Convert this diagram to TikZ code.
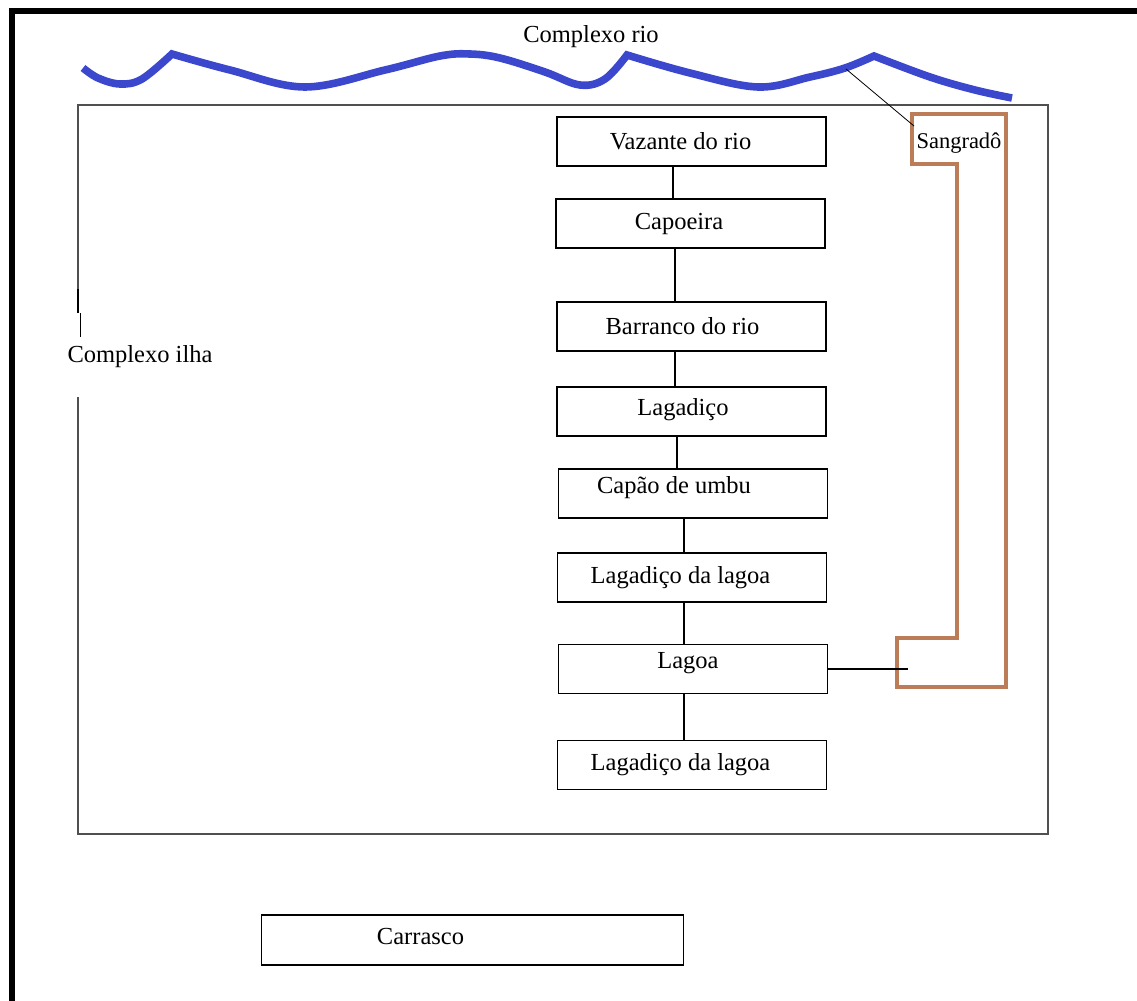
\documentclass[tikz,border=0pt]{standalone}
\usepackage{fontspec}
\setmainfont{Liberation Serif}
\usepackage{xcolor}
\definecolor{riob}{HTML}{3B47CD}
\definecolor{sang}{HTML}{BD7C58}
\definecolor{moldura}{HTML}{505050}
\tikzset{unit/.style={draw,line width=0.75pt,minimum width=134.5pt,minimum height=24.5pt,inner sep=0pt},
  txt/.style={font=\fontsize{12.25}{14}\selectfont,inner sep=0pt}}

\begin{document}
\begin{tikzpicture}[x=0.5pt,y=-0.5pt]
    \useasboundingbox (0,0) rectangle (1137,1001);
    % outer frame
    \draw[line width=3pt] (12,1001) -- (12,11) -- (1137,11);
    % complexo ilha frame
    \draw[moldura,line width=0.7pt] (78,289) -- (78,105) -- (1048,105) -- (1048,834) -- (78,834) -- (78,397);
    \draw[line width=1pt] (78,289) -- (78,313);
    \draw[line width=0.5pt] (80,313) -- (80,337);
    \node[txt] (ilha) at (140,357) {Complexo ilha};

    % river
    \node[txt] (rio) at (591,37) {Complexo rio};
    \draw[riob,line width=3.8pt]
        plot[smooth,tension=0.6] coordinates {(83,68) (98,78) (120,84) (142,79) (172,54)}
        -- plot[smooth,tension=0.6] coordinates {(172,54) (230,70) (305,87) (385,70) (440,56) (470,54) (500,58) (545,72) (580,85) (605,79) (627,55)}
        -- plot[smooth,tension=0.6] coordinates {(627,55) (690,73) (758,87) (810,77) (845,68) (874,56)}
        -- plot[smooth,tension=0.6] coordinates {(874,56) (930,77) (975,90) (1012,98)};

    \node[unit,label={[txt,xshift=-5.5pt]center:Vazante do rio}] (a) at (691.5,141.5) {};
    \node[unit,label={[txt,xshift=-5.75pt]center:Capoeira}] (b) at (690.5,223.5) {};
    \node[unit,label={[txt,xshift=-4.5pt]center:Barranco do rio}] (c) at (691.5,326.5) {};
    \node[unit,label={[txt,xshift=-4.25pt,yshift=0.75pt]center:Lagadiço}] (d) at (691.5,411.5) {};
    \node[unit,label={[txt,xshift=-9.5pt,yshift=3pt]center:Capão de umbu}] (e) at (693,493.5) {};
    \node[unit,label={[txt,xshift=-5.75pt]center:Lagadiço da lagoa}] (f) at (692,577.5) {};
    \node[unit,label={[txt,xshift=-2.5pt,yshift=3pt]center:Lagoa}] (g) at (693,669) {};
    \node[unit,label={[txt,xshift=-5.75pt]center:Lagadiço da lagoa}] (h) at (692,765) {};
    \node[unit,minimum width=211pt,minimum height=25pt,label={[txt,xshift=-26pt,yshift=1.5pt]center:Carrasco}] (i) at (472.5,940) {};

    \draw[line width=0.7pt] ([xshift=-9.25pt]a.south) -- ([xshift=-8.75pt]b.north);
    \draw[line width=0.7pt] ([xshift=-7.75pt]b.south) -- ([xshift=-8.25pt]c.north);
    \draw[line width=0.7pt] ([xshift=-8.25pt]c.south) -- ([xshift=-8.25pt]d.north);
    \draw[line width=0.7pt] ([xshift=-7.25pt]d.south) -- ([xshift=-8pt]e.north);
    \draw[line width=0.7pt] ([xshift=-4.5pt]e.south) -- ([xshift=-4pt]f.north);
    \draw[line width=0.7pt] ([xshift=-4pt]f.south) -- ([xshift=-4.5pt]g.north);
    \draw[line width=0.7pt] ([xshift=-4.5pt]g.south) -- ([xshift=-4pt]h.north);

    % sangrado
    \draw[sang,line width=2pt] (912,114) -- (1006,114) -- (1006,687) -- (897,687) -- (897,638)
        -- (957,638) -- (957,164) -- (912,164) -- cycle;
    \node[txt,font=\fontsize{11.25}{13}\selectfont] (s) at (959,143) {Sangradô};
    \coordinate (w) at (846,69);
    \coordinate (t) at (914,126);
    \coordinate (u) at (908,669);
    \draw[line width=0.4pt] (w) -- (t);
    \draw[line width=0.7pt] (g.east) -- (u);
\end{tikzpicture}
\end{document}
